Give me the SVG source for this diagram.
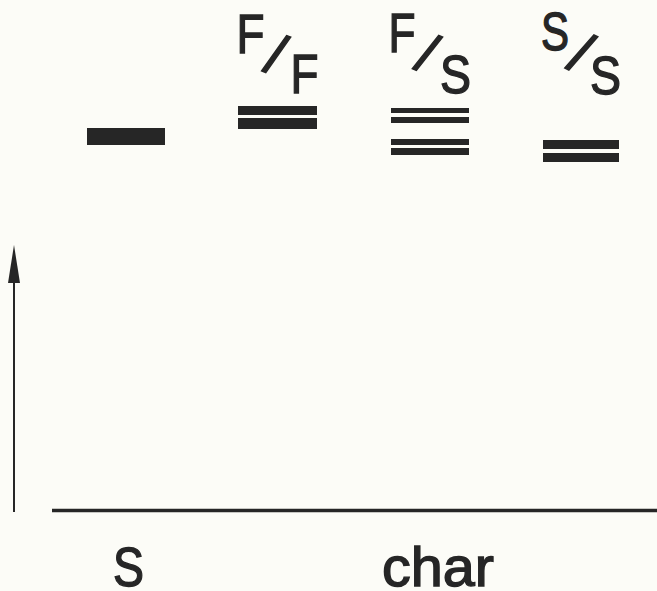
<svg xmlns="http://www.w3.org/2000/svg" width="657" height="591" viewBox="0 0 657 591">
<style>
.t{font-family:"Liberation Sans",Arial,sans-serif;fill:#262626;stroke:#262626;stroke-width:1.4}
.bar{fill:#262626}
</style>
<rect width="657" height="591" fill="#fcfcf7"/>
<g id="axes">
<line x1="14" y1="512" x2="14" y2="280" stroke="#262626" stroke-width="2"/>
<polygon points="14,245 8,283 20,283" fill="#262626"/>
<line x1="52" y1="510.5" x2="657" y2="510.5" stroke="#262626" stroke-width="3.5"/>
</g>
<g id="node-S">
<rect class="bar" x="87" y="128" width="78" height="17"/>
</g>
<g id="node-FF">
<text class="t" x="236.5" y="53" font-size="55" textLength="28" lengthAdjust="spacingAndGlyphs">F</text>
<text class="t" x="0" y="20" font-size="57" text-anchor="middle" transform="translate(276 54.5) rotate(20)">/</text>
<text class="t" x="290.5" y="93" font-size="55" textLength="28" lengthAdjust="spacingAndGlyphs">F</text>
<rect class="bar" x="238" y="106" width="79" height="9"/>
<rect class="bar" x="238" y="118" width="79" height="11"/>
</g>
<g id="node-FS">
<text class="t" x="388.5" y="52" font-size="55" textLength="27" lengthAdjust="spacingAndGlyphs">F</text>
<text class="t" x="0" y="20" font-size="56" text-anchor="middle" transform="translate(427.5 53) rotate(23)">/</text>
<text class="t" x="440" y="92.5" font-size="53" textLength="31" lengthAdjust="spacingAndGlyphs">S</text>
<rect class="bar" x="391" y="108" width="78" height="5"/>
<rect class="bar" x="391" y="117" width="78" height="6"/>
<rect class="bar" x="391" y="139" width="78" height="6"/>
<rect class="bar" x="391" y="148" width="78" height="7"/>
</g>
<g id="node-SS">
<text class="t" x="541" y="49.5" font-size="53" textLength="28" lengthAdjust="spacingAndGlyphs">S</text>
<text class="t" x="0" y="20" font-size="58" text-anchor="middle" transform="translate(581 53) rotate(26)">/</text>
<text class="t" x="590" y="94" font-size="53" textLength="31" lengthAdjust="spacingAndGlyphs">S</text>
<rect class="bar" x="543" y="140" width="76" height="9"/>
<rect class="bar" x="543" y="153" width="76" height="9"/>
</g>
<g id="labels">
<text class="t" x="113" y="586" font-size="55" textLength="31" lengthAdjust="spacingAndGlyphs">S</text>
<text class="t" x="382" y="586" font-size="56" textLength="112" lengthAdjust="spacingAndGlyphs">char</text>
</g>
</svg>
